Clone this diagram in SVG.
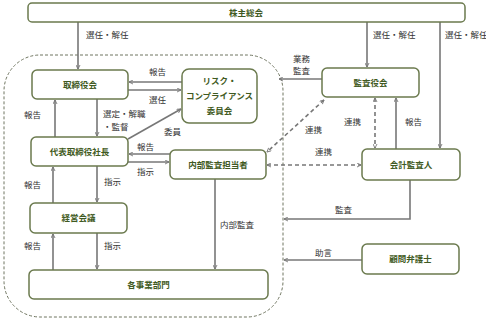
<svg xmlns="http://www.w3.org/2000/svg" width="486" height="322" viewBox="0 0 486 322">
<style>
.node rect{fill:#fff;stroke:#6b7a4e;stroke-width:1.5}
.nt{font-family:"Noto Sans CJK JP","Noto Sans",sans-serif;font-size:8.5px;font-weight:bold;fill:#3f5a22;text-anchor:middle}
.lb{font-family:"Noto Sans CJK JP","Noto Sans",sans-serif;font-size:8.5px;fill:#333}
.e{fill:none;stroke:#777;stroke-width:1.6}
.d{fill:none;stroke:#777;stroke-width:1.6;stroke-dasharray:4,3}
</style>
<defs>
<marker id="a" viewBox="0 0 10 10" refX="9" refY="5" markerWidth="5" markerHeight="5" orient="auto-start-reverse" markerUnits="userSpaceOnUse">
<polyline points="1,1 9,5 1,9" fill="none" stroke="#777" stroke-width="1.8"/>
</marker>
</defs>
<rect x="4" y="55" width="279" height="262" rx="36" fill="none" stroke="#6f7560" stroke-width="1" stroke-dasharray="3,2"/>
<g id="connectors">
<line class="e" x1="78" y1="22" x2="78" y2="69" marker-end="url(#a)"/>
<line class="e" x1="367" y1="22" x2="367" y2="67" marker-end="url(#a)"/>
<line class="e" x1="440" y1="22" x2="440" y2="148" marker-end="url(#a)"/>
<line class="e" x1="182" y1="82" x2="129" y2="82" marker-end="url(#a)"/>
<line class="e" x1="128" y1="90" x2="181" y2="90" marker-end="url(#a)"/>
<line class="e" x1="97" y1="99" x2="97" y2="136" marker-end="url(#a)"/>
<line class="e" x1="55" y1="137" x2="55" y2="100" marker-end="url(#a)"/>
<line class="e" x1="128" y1="139" x2="181" y2="109" marker-end="url(#a)"/>
<line class="e" x1="170" y1="154" x2="129" y2="154" marker-end="url(#a)"/>
<line class="e" x1="128" y1="162" x2="169" y2="162" marker-end="url(#a)"/>
<line class="e" x1="97" y1="166" x2="97" y2="202" marker-end="url(#a)"/>
<line class="e" x1="53" y1="203" x2="53" y2="167" marker-end="url(#a)"/>
<line class="e" x1="97" y1="233" x2="97" y2="269" marker-end="url(#a)"/>
<line class="e" x1="53" y1="270" x2="53" y2="234" marker-end="url(#a)"/>
<line class="e" x1="215" y1="179" x2="215" y2="269" marker-end="url(#a)"/>
<line class="e" x1="322" y1="79" x2="279" y2="79" marker-end="url(#a)"/>
<line class="d" x1="324" y1="100" x2="267" y2="152" marker-start="url(#a)" marker-end="url(#a)"/>
<line class="d" x1="267" y1="165" x2="361" y2="165" marker-start="url(#a)" marker-end="url(#a)"/>
<line class="d" x1="375" y1="98" x2="375" y2="148" marker-start="url(#a)" marker-end="url(#a)"/>
<line class="e" x1="396" y1="149" x2="396" y2="98" marker-end="url(#a)"/>
<polyline class="e" points="410,180 410,219 284,219" marker-end="url(#a)"/>
<line class="e" x1="362" y1="260" x2="284" y2="260" marker-end="url(#a)"/>
</g>
<g id="labels">
<text class="lb" x="86" y="38">選任・解任</text>
<text class="lb" x="373" y="38">選任・解任</text>
<text class="lb" x="445" y="38">選任・解任</text>
<text class="lb" x="149" y="75">報告</text>
<text class="lb" x="149" y="103">選任</text>
<text class="lb" x="103" y="117">選定・解職</text>
<text class="lb" x="103" y="130">・監督</text>
<text class="lb" x="24" y="118">報告</text>
<text class="lb" x="164" y="135">委員</text>
<text class="lb" x="137" y="150">報告</text>
<text class="lb" x="137" y="175">指示</text>
<text class="lb" x="104" y="185">指示</text>
<text class="lb" x="24" y="188">報告</text>
<text class="lb" x="104" y="249">指示</text>
<text class="lb" x="24" y="249">報告</text>
<text class="lb" x="220" y="228">内部監査</text>
<text class="lb" x="293" y="62">業務</text>
<text class="lb" x="293" y="74">監査</text>
<text class="lb" x="305" y="133">連携</text>
<text class="lb" x="344" y="125">連携</text>
<text class="lb" x="405" y="125">報告</text>
<text class="lb" x="315" y="155">連携</text>
<text class="lb" x="335" y="213">監査</text>
<text class="lb" x="315" y="256">助言</text>
</g>
<g id="n-shareholders" class="node"><rect x="28" y="3" width="437" height="19" rx="4"/><text class="nt" x="246" y="16">株主総会</text></g>
<g id="n-board" class="node"><rect x="32" y="70" width="96" height="29" rx="5"/><text class="nt" x="80" y="88">取締役会</text></g>
<g id="n-risk" class="node"><rect x="182" y="69" width="75" height="54" rx="7"/><text class="nt" x="219.5" y="84">リスク・</text><text class="nt" x="219.5" y="99">コンプライアンス</text><text class="nt" x="219.5" y="114">委員会</text></g>
<g id="n-president" class="node"><rect x="31" y="137" width="97" height="29" rx="5"/><text class="nt" x="79.5" y="155">代表取締役社長</text></g>
<g id="n-internal" class="node"><rect x="170" y="150" width="96" height="29" rx="5"/><text class="nt" x="218" y="168">内部監査担当者</text></g>
<g id="n-mgmt" class="node"><rect x="30" y="203" width="97" height="30" rx="5"/><text class="nt" x="78.5" y="221">経営会議</text></g>
<g id="n-divisions" class="node"><rect x="29" y="270" width="239" height="29" rx="5"/><text class="nt" x="148.5" y="288">各事業部門</text></g>
<g id="n-auditors" class="node"><rect x="322" y="68" width="97" height="29" rx="5"/><text class="nt" x="370.5" y="86">監査役会</text></g>
<g id="n-accounting" class="node"><rect x="362" y="149" width="98" height="31" rx="5"/><text class="nt" x="411" y="168">会計監査人</text></g>
<g id="n-lawyer" class="node"><rect x="362" y="244" width="97" height="30" rx="5"/><text class="nt" x="410.5" y="262">顧問弁護士</text></g>
</svg>
